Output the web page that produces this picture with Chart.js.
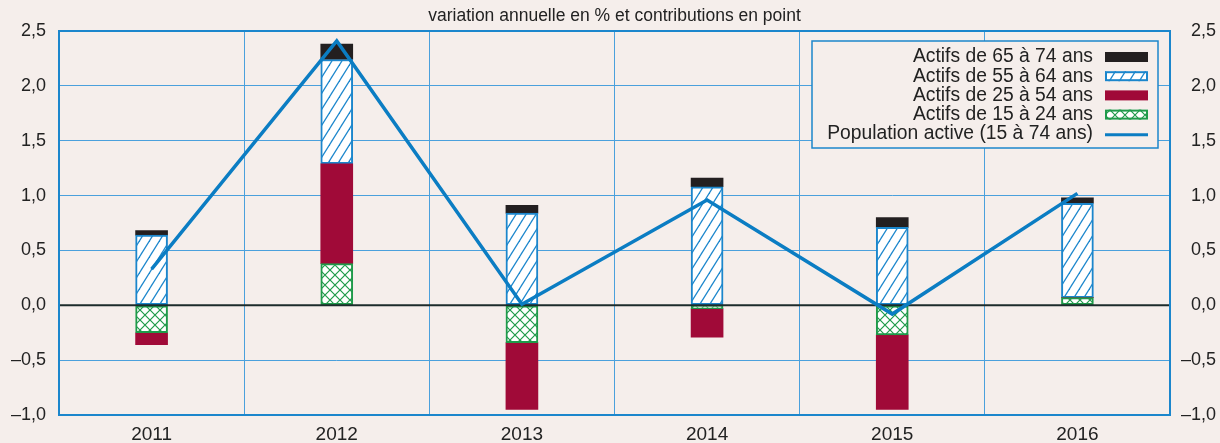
<!DOCTYPE html>
<html>
<head>
<meta charset="utf-8">
<script src="https://cdn.jsdelivr.net/npm/chart.js@4"></script>
<style>
  html, body { margin: 0; padding: 0; background: #f5eeeb; }
  #wrap { width: 1220px; height: 443px; }
</style>
</head>
<body>
<div id="wrap"><canvas id="myChart" width="1220" height="443"></canvas></div>
<script>
// donnees
const annees = ['2011', '2012', '2013', '2014', '2015', '2016'];
const actifs15a24 = [-0.25, 0.38, -0.34, -0.03, -0.27, 0.07];
const actifs25a54 = [-0.11, 0.91, -0.61, -0.26, -0.68, 0];
const actifs55a64 = [0.64, 0.95, 0.84, 1.08, 0.71, 0.86];
const actifs65a74 = [0.04, 0.14, 0.07, 0.08, 0.09, 0.05];
const populationActive = [0.33, 2.41, 0.01, 0.96, -0.08, 1.02];
const yMin = -1.0, yMax = 2.5, yPas = 0.5;
const titre = 'variation annuelle en % et contributions en point';

const fond = '#f5eeeb';
const bleu = '#1b86cc';
const bleuLigne = '#0b7dc3';
const grille = '#4aa0dc';
const rouge = '#a00a38';
const noir = '#231f20';
const vert = '#1f9a4a';
const police = '"Liberation Sans", Arial, sans-serif';

function motifHachure(couleur) {
    let c = document.createElement('canvas');
    c.width = 10; c.height = 16;
    let g = c.getContext('2d');
    g.fillStyle = '#ffffff';
    g.fillRect(0, 0, 10, 16);
    g.strokeStyle = couleur;
    g.lineWidth = 1.3;
    for (let dx = -10; dx <= 10; dx += 10) {
        g.beginPath();
        g.moveTo(dx - 1, 17.6);
        g.lineTo(dx + 11, -1.6);
        g.stroke();
    }
    return g.createPattern(c, 'repeat');
}

function motifQuadrillage(couleur) {
    let c = document.createElement('canvas');
    c.width = 10; c.height = 10;
    let g = c.getContext('2d');
    g.fillStyle = '#ffffff';
    g.fillRect(0, 0, 10, 10);
    g.strokeStyle = couleur;
    g.lineWidth = 1.2;
    g.beginPath();
    g.moveTo(-1, -1); g.lineTo(11, 11);
    g.moveTo(-1, 11); g.lineTo(11, -1);
    g.stroke();
    return g.createPattern(c, 'repeat');
}

function formatNombre(v) {
    let s = Math.abs(v).toFixed(1).replace('.', ',');
    return v < 0 ? '\u2013' + s : s;
}

// fond, cadre, titre, ligne du zero et legende
const decor = {
    id: 'decor',
    beforeDraw: function (chart) {
        let c = chart.ctx;
        let a = chart.chartArea;
        c.save();
        c.fillStyle = fond;
        c.fillRect(0, 0, chart.width, chart.height);
        c.fillStyle = '#222';
        c.font = '17.5px ' + police;
        c.textAlign = 'center';
        c.textBaseline = 'middle';
        c.fillText(titre, (a.left + a.right) / 2, 16);
        c.restore();
    },
    afterDatasetDraw: function (chart, args) {
        if (args.index !== 1) return;
        let c = chart.ctx;
        let a = chart.chartArea;
        let y0 = chart.scales.y.getPixelForValue(0);
        c.save();
        c.strokeStyle = '#1c2b2b';
        c.lineWidth = 2;
        c.beginPath();
        c.moveTo(a.left, y0);
        c.lineTo(a.right, y0);
        c.stroke();
        c.restore();
    },
    afterDraw: function (chart) {
        let c = chart.ctx;
        let a = chart.chartArea;
        c.save();
        c.strokeStyle = bleu;
        c.lineWidth = 2;
        c.strokeRect(a.left, a.top, a.right - a.left, a.bottom - a.top);

        // legende
        let bx = 812, by = 41, bw = 346, bh = 107;
        c.fillStyle = fond;
        c.fillRect(bx, by, bw, bh);
        c.lineWidth = 1.5;
        c.strokeStyle = bleu;
        c.strokeRect(bx, by, bw, bh);
        c.font = '19.3px ' + police;
        c.textAlign = 'right';
        c.textBaseline = 'middle';
        let ordre = [4, 3, 2, 1, 0];
        for (let i = 0; i < ordre.length; i++) {
            let ds = chart.data.datasets[ordre[i]];
            let y = 57 + i * 19.2;
            c.fillStyle = '#222';
            c.fillText(ds.label, 1093, y);
            if (ds.type === 'line') {
                c.strokeStyle = ds.borderColor;
                c.lineWidth = 3;
                c.beginPath();
                c.moveTo(1105, y + 1);
                c.lineTo(1148, y + 1);
                c.stroke();
            } else {
                c.fillStyle = ds.backgroundColor;
                c.fillRect(1105, y - 5, 43, 10);
                if (ds.borderWidth) {
                    c.strokeStyle = ds.borderColor;
                    c.lineWidth = 2;
                    c.strokeRect(1106, y - 4, 41, 8);
                }
            }
        }
        c.restore();
    }
};

const ctx = document.getElementById('myChart').getContext('2d');
const myChart = new Chart(ctx, {
    data: {
        labels: annees,
        datasets: [
            {
                type: 'line',
                label: 'Population active (15 à 74 ans)',
                data: populationActive,
                borderColor: bleuLigne,
                backgroundColor: bleuLigne,
                borderWidth: 3.5,
                pointRadius: 0,
                tension: 0,
                yAxisID: 'y1'
            },
            {
                type: 'bar',
                label: 'Actifs de 15 à 24 ans',
                data: actifs15a24,
                backgroundColor: motifQuadrillage(vert),
                borderColor: vert,
                borderWidth: 2,
                borderSkipped: false,
                yAxisID: 'y'
            },
            {
                type: 'bar',
                label: 'Actifs de 25 à 54 ans',
                data: actifs25a54,
                backgroundColor: rouge,
                borderWidth: 0,
                yAxisID: 'y'
            },
            {
                type: 'bar',
                label: 'Actifs de 55 à 64 ans',
                data: actifs55a64,
                backgroundColor: motifHachure(bleu),
                borderColor: bleu,
                borderWidth: 2,
                borderSkipped: false,
                yAxisID: 'y'
            },
            {
                type: 'bar',
                label: 'Actifs de 65 à 74 ans',
                data: actifs65a74,
                backgroundColor: noir,
                borderWidth: 0,
                yAxisID: 'y'
            }
        ]
    },
    options: {
        responsive: false,
        animation: false,
        layout: { padding: { top: 31, left: 0, right: 4, bottom: 0 } },
        datasets: { bar: { barThickness: 32 } },
        plugins: {
            legend: { display: false },
            title: { display: false },
            tooltip: { enabled: false }
        },
        scales: {
            x: {
                stacked: true,
                grid: { color: grille, lineWidth: 1, drawTicks: false, offset: true },
                border: { display: false },
                ticks: { color: '#222', font: { size: 19, family: police }, padding: 8 },
                afterFit: function (s) { s.height = 28; }
            },
            y: {
                stacked: true,
                position: 'left',
                min: yMin,
                max: yMax,
                grid: { color: grille, lineWidth: 1, drawTicks: false },
                border: { display: false },
                ticks: {
                    stepSize: yPas,
                    color: '#222',
                    font: { size: 18, family: police },
                    padding: 13,
                    callback: function (v) { return formatNombre(v); }
                },
                afterFit: function (s) { s.width = 59; }
            },
            y1: {
                position: 'right',
                min: yMin,
                max: yMax,
                grid: { display: false, drawTicks: false },
                border: { display: false },
                ticks: {
                    stepSize: yPas,
                    color: '#222',
                    font: { size: 18, family: police },
                    padding: 10,
                    crossAlign: 'far',
                    callback: function (v) { return formatNombre(v); }
                },
                afterFit: function (s) { s.width = 46; }
            }
        }
    },
    plugins: [decor]
});
</script>
</body>
</html>
